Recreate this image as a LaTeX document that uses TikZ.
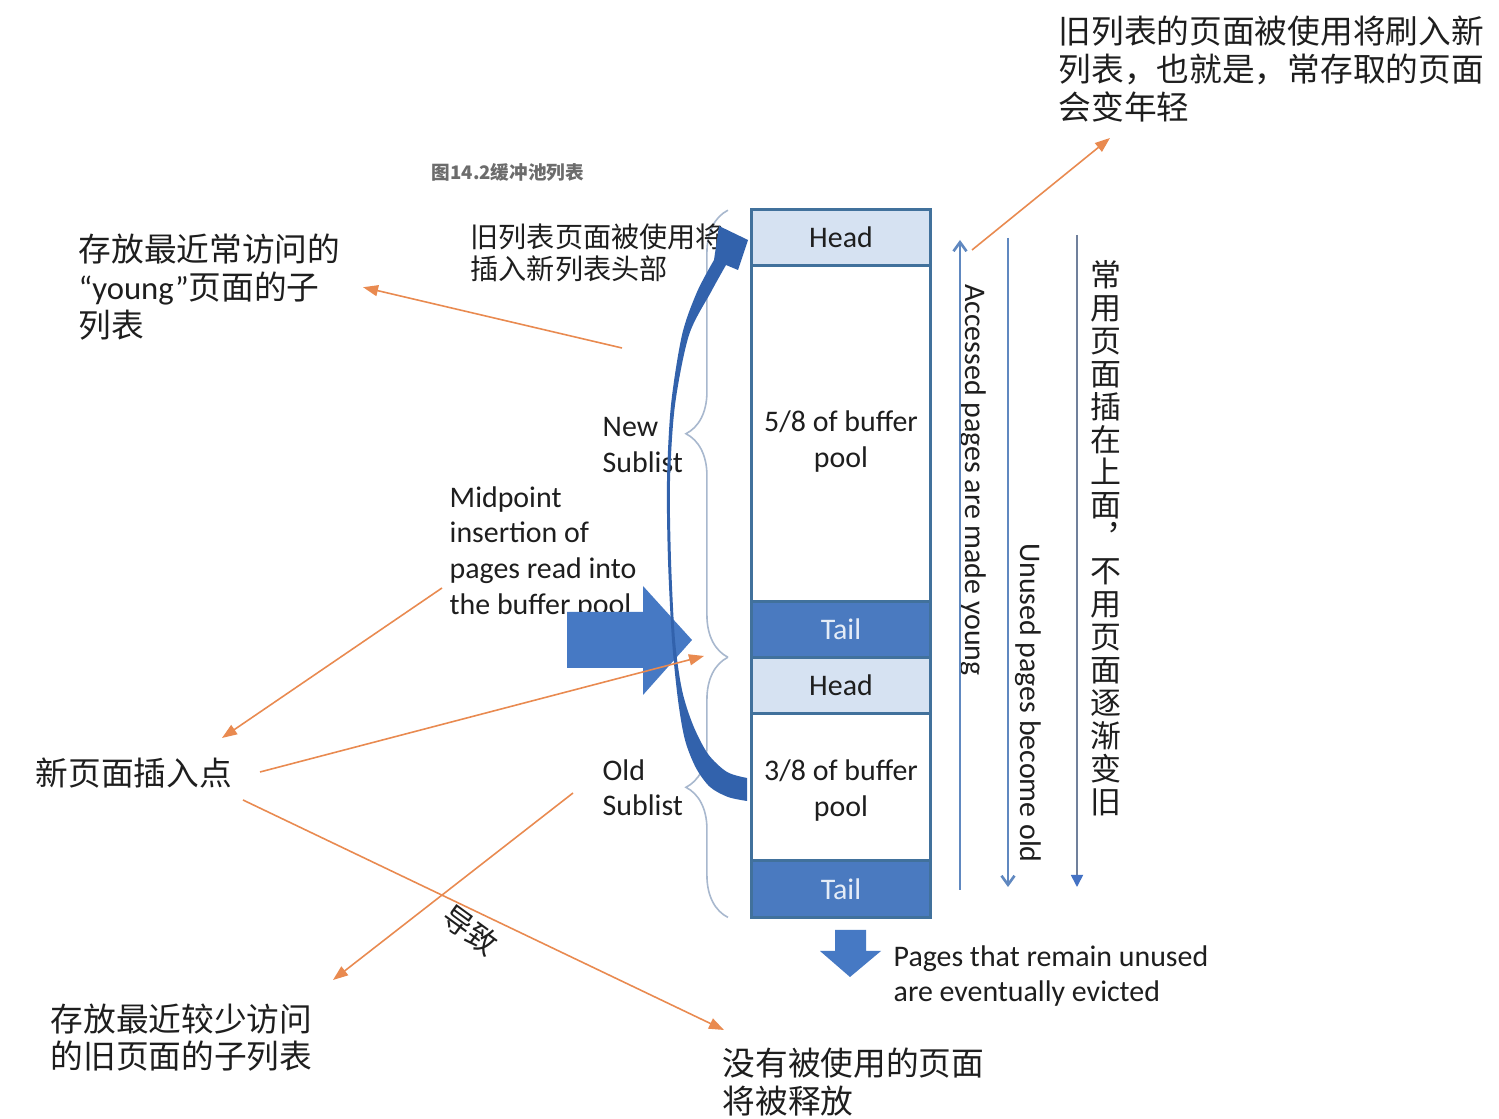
\documentclass[tikz,border=0pt]{standalone}
\usepackage{fontspec}
\setmainfont{Carlito}
\newfontfamily\cjk{Noto Sans CJK SC}
\usetikzlibrary{arrows.meta,positioning,decorations.pathreplacing}

\definecolor{cellline}{RGB}{65,113,156}
\definecolor{headfill}{RGB}{214,226,242}
\definecolor{tailfill}{RGB}{74,122,192}
\definecolor{tailtext}{RGB}{228,236,247}
\definecolor{curveblue}{RGB}{50,98,172}
\definecolor{blockblue}{RGB}{70,121,196}
\definecolor{noteorange}{RGB}{233,138,80}
\definecolor{bracegray}{RGB}{168,184,206}
\definecolor{flowblue}{RGB}{96,136,192}
\definecolor{flowgray}{RGB}{112,128,156}
\definecolor{tipblue}{RGB}{68,114,196}
\definecolor{inkgray}{RGB}{30,30,30}

\begin{document}
\begin{tikzpicture}[x=0.01cm,y=-0.01cm,
		>={Triangle[length=1.5mm,width=1.1mm]},
		cell/.style={draw=cellline,line width=0.85pt,minimum width=1.78cm,inner sep=0pt,outer sep=0pt,
			align=center,text=inkgray,font=\fontsize{8.5}{10.2}\selectfont},
		headcell/.style={cell,fill=headfill,minimum height=0.55cm},
		tailcell/.style={cell,fill=tailfill,text=tailtext,minimum height=0.56cm},
		poolcell/.style={cell,fill=white},
		poollabel/.style={cell,draw=none,fill=none,minimum width=0pt},
		cnote/.style={anchor=north west,inner sep=0pt,align=left,text=inkgray,font=\cjk\fontsize{9.3}{10.9}\selectfont},
		enote/.style={anchor=north west,inner sep=0pt,align=left,text=inkgray,font=\fontsize{8.5}{10.1}\selectfont},
		pointer/.style={->,noteorange,line width=0.45pt},
		sublist/.style={bracegray,line width=0.45pt,decorate,decoration={brace,amplitude=4.2mm}},
		flow/.style={flowblue,line width=0.75pt,-{Straight Barb[length=0.9mm,width=1.3mm]}}]

	\fill[white,use as bounding box] (0,0) rectangle (1499,1119);

	\node[headcell] (head1) at (841,237.5) {Head};
	\node[poolcell,minimum height=3.36cm,below=0pt of head1,
		label={[poollabel,yshift=-0.08cm]center:5/8 of buffer\\pool}] (newpool) {};
	\node[tailcell,below=0pt of newpool] (tail1) {Tail};
	\node[headcell,minimum height=0.56cm,below=0pt of tail1] (head2) {Head};
	\node[poolcell,minimum height=1.47cm,below=0pt of head2,
		label={[poollabel,yshift=-0.04cm]center:3/8 of buffer\\pool}] (oldpool) {};
	\node[tailcell,minimum height=0.57cm,below=0pt of oldpool] (tail2) {Tail};

	\draw[sublist] (head2.north west) ++(-24,0) coordinate (newlow) -- ++(0,-447) coordinate (newtop);
	\draw[sublist] (tail2.south west) ++(-24,0) coordinate (oldlow) -- (newlow);

	\node[anchor=west,inner sep=0pt,text=gray!85!black,font=\cjk\bfseries\fontsize{5.3}{6}\selectfont] (title) at (431,172) {图14.2缓冲池列表};
	\node[cnote] (recent) at (1058,15) {旧列表的页面被使用将刷入新\\列表，也就是，常存取的页面\\会变年轻};
	\node[cnote] (young) at (78,233) {存放最近常访问的\\{\rmfamily “young”}页面的子\\列表};
	\node[cnote,font=\cjk\fontsize{8}{9.1}\selectfont] (reuse) at (470,223) {旧列表页面被使用将\\插入新列表头部};
	\node[enote] (newsub) at (602,417) {New\\Sublist};
	\node[enote] (midpoint) at (449,486) {Midpoint\\insertion of\\pages read into\\the buffer pool};
	\node[enote] (oldsub) at (602,759) {Old\\Sublist};
	\node[cnote] (newpt) at (35,757) {新页面插入点};
	\node[cnote,font=\cjk\fontsize{9.3}{10.6}\selectfont] (rarely) at (50,1003) {存放最近较少访问\\的旧页面的子列表};
	\node[cnote,font=\cjk\fontsize{9.3}{10.8}\selectfont] (freed) at (722,1047) {没有被使用的页面\\将被释放};
	\node[enote] (evicted) at (893,945) {Pages that remain unused\\are eventually evicted};
	\node[cnote,anchor=center,font=\cjk\fontsize{8.5}{10}\selectfont,rotate=-36] (cause) at (470,930) {导致};

	\node[enote,anchor=center,rotate=-90] (madeyoung) at (973,480) {Accessed pages are made young};
	\node[enote,anchor=center,rotate=-90] (becomeold) at (1028,703) {Unused pages become old};
	\node[cnote,anchor=center,align=center,font=\cjk\fontsize{8.8}{9.36}\selectfont] (vnote) at (1106,538)
		{常\\用\\页\\面\\插\\在\\上\\面\\︐\\不\\用\\页\\面\\逐\\渐\\变\\旧};

	\coordinate (upfrom) at (960,890);
	\coordinate (upto) at (960,240);
	\coordinate (downfrom) at (1008,238);
	\coordinate (downto) at (1008,887);
	\coordinate (agefrom) at (1077,235);
	\coordinate (ageto) at (1077,887);
	\draw[flow] (upfrom) -- (upto);
	\draw[flow] (downfrom) -- (downto);
	\draw[flowgray,line width=0.5pt,-{Triangle[length=1.2mm,width=1.2mm,color=tipblue]}] (agefrom) -- (ageto);

	% block arrows
	\fill[blockblue] (567,612) -- (643,612) -- (643,586) -- (692,640) -- (643,695) -- (643,668) -- (567,668) -- cycle;
	\fill[blockblue] (835,930) -- (866,930) -- (866,951) -- (881,951) -- (850,977) -- (820,951) -- (835,951) -- cycle;

	% curved arrow from old sublist to head
	\fill[curveblue] plot[smooth] coordinates {(747,801) (728,797) (710,787) (696,768) (685,740) (678,700)
			(672,640) (668,560) (667,481) (671,405) (682,335) (697,292) (714,260)}
		-- (719,226) -- (748,240) -- (738,270)
		-- plot[smooth] coordinates {(726,265) (711,292) (689,335) (675,405) (670,481) (671,560)
			(675,640) (682,690) (693,725) (708,754) (727,772) (747,778)} -- cycle;

	\coordinate (reusefrom) at (622,348);
	\coordinate (recentfrom) at (972,250);
	\coordinate (recentto) at (1110,138);
	\coordinate (midfrom) at (442,588);
	\coordinate (newptto) at (222,738);
	\coordinate (newptfrom) at (260,772);
	\coordinate (midto) at (704,656);
	\coordinate (causefrom) at (243,800);
	\coordinate (freedto) at (724,1030);
	\coordinate (oldfrom) at (573,793);
	\coordinate (rarelyto) at (333,980);

	\path[pointer] (reusefrom) edge ([xshift=2.2mm]young.east)
		(recentfrom) edge (recentto)
		(midfrom) edge (newptto)
		(newptfrom) edge (midto)
		(causefrom) edge (freedto)
		(oldfrom) edge (rarelyto);
\end{tikzpicture}
\end{document}
